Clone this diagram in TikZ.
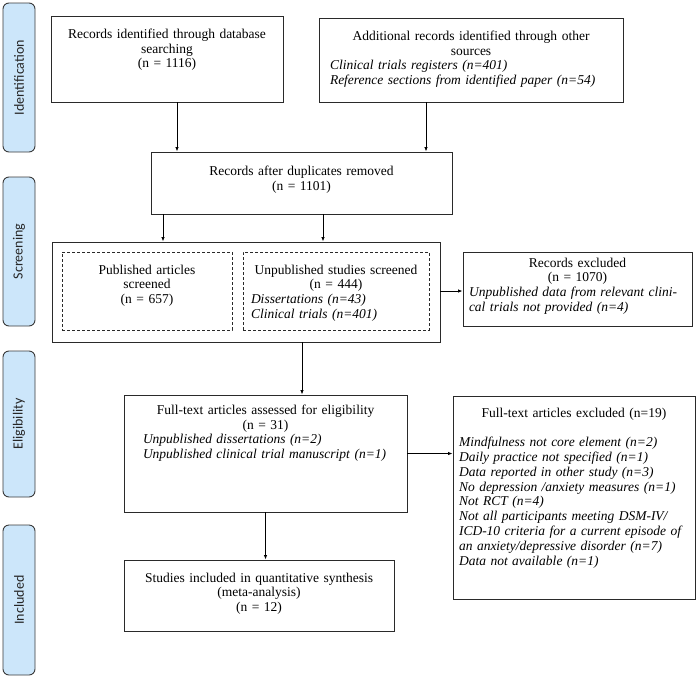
\documentclass[tikz,border=0pt]{standalone}
\usepackage{fontspec}
\setmainfont{Liberation Serif}
\newfontfamily\lblfont{Carlito}
\usetikzlibrary{fit,arrows.meta}
\definecolor{lblfill}{HTML}{CCE6FA}
\definecolor{lbldraw}{HTML}{3A3A3A}
\definecolor{boxdraw}{HTML}{2A2A2A}
\tikzset{
  box/.style={draw=boxdraw, line width=0.9pt, inner sep=0pt},
  dbox/.style={draw=boxdraw, line width=0.9pt, inner sep=0pt, dash pattern=on 3pt off 2pt},
  lbl/.style={draw=lbldraw, fill=lblfill, line width=0.9pt, rounded corners=6pt, inner sep=0pt},
  lbltext/.style={font=\lblfont\fontsize{14}{16}\selectfont, rotate=90, text=black!85},
  txt/.style={inner sep=0pt, anchor=north, font=\fontsize{13.5}{14.8}\selectfont},
  arr/.style={line width=0.8pt, -{Latex[length=4.5pt,width=3.5pt]}}
}
\begin{document}
\begin{tikzpicture}[x=1pt,y=-1pt]
\useasboundingbox (0,0) rectangle (699,678);
% side labels
\node[lbl, fit={(3,3) (35,152)}] (lid) {};
\node[lbltext] (lidt) at (lid.center) {Identification};
\node[lbl, fit={(3,177) (35,326)}] (lsc) {};
\node[lbltext] (lsct) at (lsc.center) {Screening};
\node[lbl, fit={(3,351) (35,497)}] (lel) {};
\node[lbltext] (lelt) at (lel.center) {Eligibility};
\node[lbl, fit={(3,525) (35,675)}] (lin) {};
\node[lbltext] (lint) at (lin.center) {Included};
% boxes
\node[box, fit={(51,16) (283,102)}] (b1) {};
\node[txt, text width=225pt, align=center] (b1t) at ([yshift=-13pt]b1.north) {Records identified through database\\ searching\\ (n = 1116)};
\node[box, fit={(319,18) (623,102)}] (b2) {};
\node[txt, text width=282pt] (b2t) at ([yshift=-13pt]b2.north) {{\centering Additional records identified through other\\ sources\par}\raggedright\itshape Clinical trials registers (n=401)\\ Reference sections from identified paper (n=54)};
\node[box, fit={(151,152) (452,214)}] (b3) {};
\node[txt, text width=280pt, align=center] (b3t) at ([yshift=-14pt]b3.north) {Records after duplicates removed\\ (n = 1101)};
\node[box, fit={(52,242) (440,342)}] (scr) {};
\node[dbox, fit={(62,252) (232,330)}] (d1) {};
\node[txt, text width=160pt, align=center] (d1t) at ([yshift=-13pt]d1.north) {Published articles\\ screened\\ (n = 657)};
\node[dbox, fit={(243,252) (429,330)}] (d2) {};
\node[txt, text width=170pt] (d2t) at ([yshift=-13pt]d2.north) {{\centering Unpublished studies screened\\ (n = 444)\par}\raggedright\itshape Dissertations (n=43)\\ Clinical trials (n=401)};
\node[box, fit={(463,252) (692,326)}] (e1) {};
\node[txt, text width=217pt] (e1t) at ([yshift=-6pt]e1.north) {{\centering Records excluded\\ (n = 1070)\par}\raggedright\itshape Unpublished data from relevant clini-\\ cal trials not provided (n=4)};
\node[box, fit={(124,395) (407,512)}] (fa) {};
\node[txt, text width=245pt] (fat) at ([yshift=-10pt]fa.north) {{\centering Full-text articles assessed for eligibility\\ (n = 31)\par}\raggedright\itshape Unpublished dissertations (n=2)\\ Unpublished clinical trial manuscript (n=1)};
\node[box, fit={(453,396) (695,599)}] (e2) {};
\node[txt, text width=230pt] (e2t) at ([yshift=-12pt]e2.north) {{\centering Full-text articles excluded (n=19)\par}\vspace{14.8pt}\raggedright\itshape Mindfulness not core element (n=2)\\ Daily practice not specified (n=1)\\ Data reported in other study (n=3)\\ No depression /anxiety measures (n=1)\\ Not RCT (n=4)\\ Not all participants meeting DSM-IV/\\ ICD-10 criteria for a current episode of\\ an anxiety/depressive disorder (n=7)\\ Data not available (n=1)};
\node[box, fit={(124,560) (394,631)}] (inc) {};
\node[txt, text width=260pt, align=center] (inct) at ([yshift=-13pt]inc.north) {Studies included in quantitative synthesis\\ (meta-analysis)\\ (n = 12)};
% connectors
\draw[arr] ([xshift=10pt]b1.south) -- ([xshift=10pt]b1.south |- b3.north);
\draw[arr] ([xshift=-45pt]b2.south) -- ([xshift=-45pt]b2.south |- b3.north);
\draw[arr] ([xshift=-138.5pt]b3.south) -- ([xshift=-138.5pt]b3.south |- scr.north);
\draw[arr] ([xshift=21.5pt]b3.south) -- ([xshift=21.5pt]b3.south |- scr.north);
\draw[arr] ([yshift=1pt]scr.east) -- ([yshift=1pt]scr.east -| e1.west);
\draw[arr] ([xshift=56pt]scr.south) -- ([xshift=56pt]scr.south |- fa.north);
\draw[arr] (fa.east) -- (fa.east -| e2.west);
\draw[arr] (fa.south) -- (fa.south |- inc.north);
\end{tikzpicture}
\end{document}
